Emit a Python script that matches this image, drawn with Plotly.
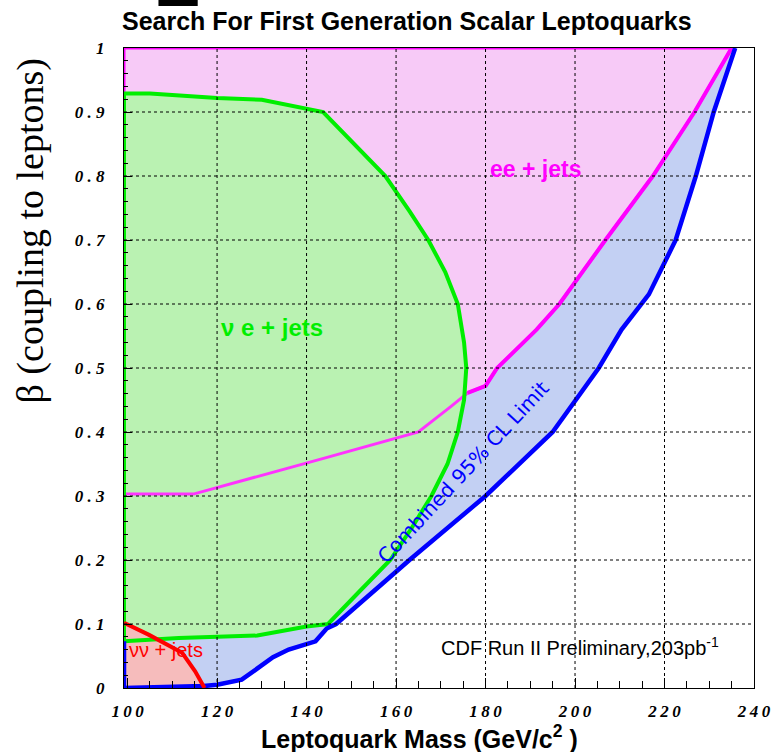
import plotly.graph_objects as go

# ---------------- data ----------------
x_left = 99.2  # left frame edge of the plot

# Combined 95% CL limit (blue)
mass_comb = [99.2, 99.2, 117.0, 120.0, 125.5, 132.5, 136.0, 142.0, 144.5, 146.6, 163.0,
             180.0, 195.0, 200.0, 205.3, 210.4, 214.0, 216.5, 222.5, 227.0, 231.0, 235.8]
beta_comb = [0.073, 0.0, 0.003, 0.005, 0.013, 0.048, 0.060, 0.073, 0.093, 0.100, 0.200,
             0.300, 0.400, 0.450, 0.500, 0.560, 0.592, 0.615, 0.700, 0.800, 0.900, 1.000]

# ee + jets (magenta): thin part (inside nu e region) and thick part
mass_ee_thin = [99.2, 114.7, 144.4, 165.0, 172.3, 176.0]
beta_ee_thin = [0.303, 0.303, 0.360, 0.400, 0.440, 0.461]
mass_ee_thick = [176.0, 180.0, 182.6, 191.4, 196.5, 206.8, 217.4, 226.7, 235.0]
beta_ee_thick = [0.461, 0.472, 0.500, 0.560, 0.600, 0.700, 0.800, 0.900, 1.000]

# nu e + jets (green), closed contour
mass_enu = [99.2, 105.0, 120.0, 130.0, 143.7, 150.0, 157.6, 163.0, 167.2, 171.0, 173.8,
            175.2, 175.7, 175.2, 173.8, 171.5, 167.9, 163.5, 158.7, 151.7, 144.8, 140.0,
            129.0, 111.4, 99.2, 99.2]
beta_enu = [0.929, 0.929, 0.922, 0.919, 0.900, 0.855, 0.800, 0.745, 0.700, 0.650, 0.600,
            0.540, 0.500, 0.450, 0.400, 0.350, 0.300, 0.250, 0.200, 0.150, 0.100, 0.096,
            0.082, 0.078, 0.073, 0.929]

# nu nu + jets (red)
mass_nunu = [99.2, 104.8, 112.2, 115.1, 117.2]
beta_nunu = [0.102, 0.083, 0.055, 0.026, 0.000]

x_ticks = [100, 120, 140, 160, 180, 200, 220, 240]
x_ticklabels = ["1\u20090\u20090", "1\u20092\u20090", "1\u20094\u20090", "1\u20096\u20090",
                "1\u20098\u20090", "2\u20090\u20090", "2\u20092\u20090", "2\u20094\u20090"]
y_ticks = [0, 0.1, 0.2, 0.3, 0.4, 0.5, 0.6, 0.7, 0.8, 0.9, 1.0]
y_ticklabels = ["0", "0 . 1", "0 . 2", "0 . 3", "0 . 4", "0 . 5", "0 . 6", "0 . 7",
                "0 . 8", "0 . 9", "1"]
grid_x = [120, 140, 160, 180, 200, 220]
grid_y = [0.1, 0.2, 0.3, 0.4, 0.5, 0.6, 0.7, 0.8, 0.9]

# ---------------- styles ----------------
C_BLUE, C_MAG, C_GREEN, C_RED = "#0000FF", "#FF00FF", "#00EE00", "#FF0000"
F_BLUE, F_MAG, F_GREEN, F_RED = "#C3D0F3", "#F7CAF7", "#BAF2B2", "#F6BCBC"

fig = go.Figure()

# fills
fig.add_trace(go.Scatter(x=mass_comb + [x_left], y=beta_comb + [1.0], fill="toself",
                         fillcolor=F_BLUE, mode="none", hoverinfo="skip"))
ee_all_x = mass_ee_thin + mass_ee_thick[1:]
ee_all_y = beta_ee_thin + beta_ee_thick[1:]
fig.add_trace(go.Scatter(x=ee_all_x + [x_left, x_left], y=ee_all_y + [1.0, 0.303], fill="toself",
                         fillcolor=F_MAG, mode="lines", line=dict(color=C_MAG, width=3),
                         hoverinfo="skip"))
fig.add_trace(go.Scatter(x=mass_enu, y=beta_enu, fill="toself", fillcolor=F_GREEN,
                         mode="none", hoverinfo="skip"))
fig.add_trace(go.Scatter(x=mass_nunu + [x_left], y=beta_nunu + [0.0], fill="toself",
                         fillcolor=F_RED, mode="none", hoverinfo="skip"))

# lines
fig.add_trace(go.Scatter(x=mass_ee_thin, y=beta_ee_thin, mode="lines",
                         line=dict(color="#FF33FF", width=3)))
fig.add_trace(go.Scatter(x=mass_ee_thick, y=beta_ee_thick, mode="lines",
                         line=dict(color=C_MAG, width=4)))
fig.add_trace(go.Scatter(x=mass_enu, y=beta_enu, mode="lines",
                         line=dict(color=C_GREEN, width=4)))
fig.add_trace(go.Scatter(x=mass_comb, y=beta_comb, mode="lines",
                         line=dict(color=C_BLUE, width=4.5)))
fig.add_trace(go.Scatter(x=mass_nunu, y=beta_nunu, mode="lines",
                         line=dict(color=C_RED, width=4)))

shapes = []
for gx in grid_x:
    shapes.append(dict(type="line", xref="x", yref="y", x0=gx, x1=gx, y0=0, y1=1,
                       line=dict(color="black", width=1, dash="dot"), layer="above"))
for gy in grid_y:
    shapes.append(dict(type="line", xref="x", yref="y", x0=x_left, x1=240, y0=gy, y1=gy,
                       line=dict(color="black", width=1, dash="dot"), layer="above"))
# small black bar at the very top of the picture
shapes.append(dict(type="rect", xref="paper", yref="paper", x0=0.0547, x1=0.117,
                   y0=1.0656, y1=1.08, fillcolor="black", line=dict(width=0)))

ann_font = "Arial, Liberation Sans, sans-serif"


def ann(text, x, y, font, ref="data", angle=0):
    r = dict(xref="x", yref="y") if ref == "data" else dict(xref="paper", yref="paper")
    return dict(text=text, x=x, y=y, showarrow=False, xanchor="center", yanchor="middle",
                textangle=angle, font=font, **r)


annotations = [
    ann("ee + jets", 191.2, 0.811, dict(family=ann_font, size=23, color=C_MAG, weight="bold")),
    ann("ν e + jets", 132.3, 0.563, dict(family=ann_font, size=24, color=C_GREEN, weight="bold")),
    ann("νν + jets", 108.5, 0.060, dict(family=ann_font, size=20, color=C_RED)),
    ann("Combined 95% CL Limit", 175.0, 0.338,
        dict(family="DejaVu Sans", size=20, color=C_BLUE), angle=-47),
    ann("CDF Run II Preliminary,203pb<sup>-1</sup>", 201.2, 0.065,
        dict(family=ann_font, size=20, color="black")),
    ann("Search For First Generation Scalar Leptoquarks", (411 - 124) / 640, (688 - 21) / 640,
        dict(family=ann_font, size=25, color="black", weight="bold"), ref="paper"),
    ann("Leptoquark Mass (GeV/c<sup>2</sup> )", (424 - 124) / 640, (688 - 737) / 640,
        dict(family=ann_font, size=25, color="black", weight="bold"), ref="paper"),
    ann("β (coupling to leptons)", (30 - 124) / 640, (688 - 231) / 640,
        dict(family="Liberation Serif, Times New Roman, serif", size=38, color="black"),
        ref="paper", angle=-90),
]

tickfont = dict(family="Liberation Serif, Times New Roman, serif", size=17, color="black",
                weight="bold", style="italic")

fig.update_layout(
    width=783, height=752,
    margin=dict(l=124, r=19, t=48, b=64),
    paper_bgcolor="white", plot_bgcolor="white",
    showlegend=False,
    shapes=shapes, annotations=annotations,
    xaxis=dict(range=[x_left, 240], tickmode="array", tickvals=x_ticks, ticktext=x_ticklabels,
               ticks="inside", ticklen=10, tickcolor="black", showgrid=False, zeroline=False,
               showline=True, linecolor="black", linewidth=1, mirror=True,
               tickfont=tickfont, ticklabelstandoff=8,
               minor=dict(dtick=5, tick0=100, ticks="inside", ticklen=7, tickcolor="black",
                          showgrid=False)),
    yaxis=dict(range=[0, 1], tickmode="array", tickvals=y_ticks, ticktext=y_ticklabels,
               ticks="inside", ticklen=8, tickcolor="black", showgrid=False, zeroline=False,
               showline=True, linecolor="black", linewidth=1, mirror=True,
               tickfont=tickfont, ticklabelstandoff=15,
               minor=dict(dtick=0.02, tick0=0, ticks="inside", ticklen=4, tickcolor="black",
                          showgrid=False)),
)

fig.write_html("out.html")
